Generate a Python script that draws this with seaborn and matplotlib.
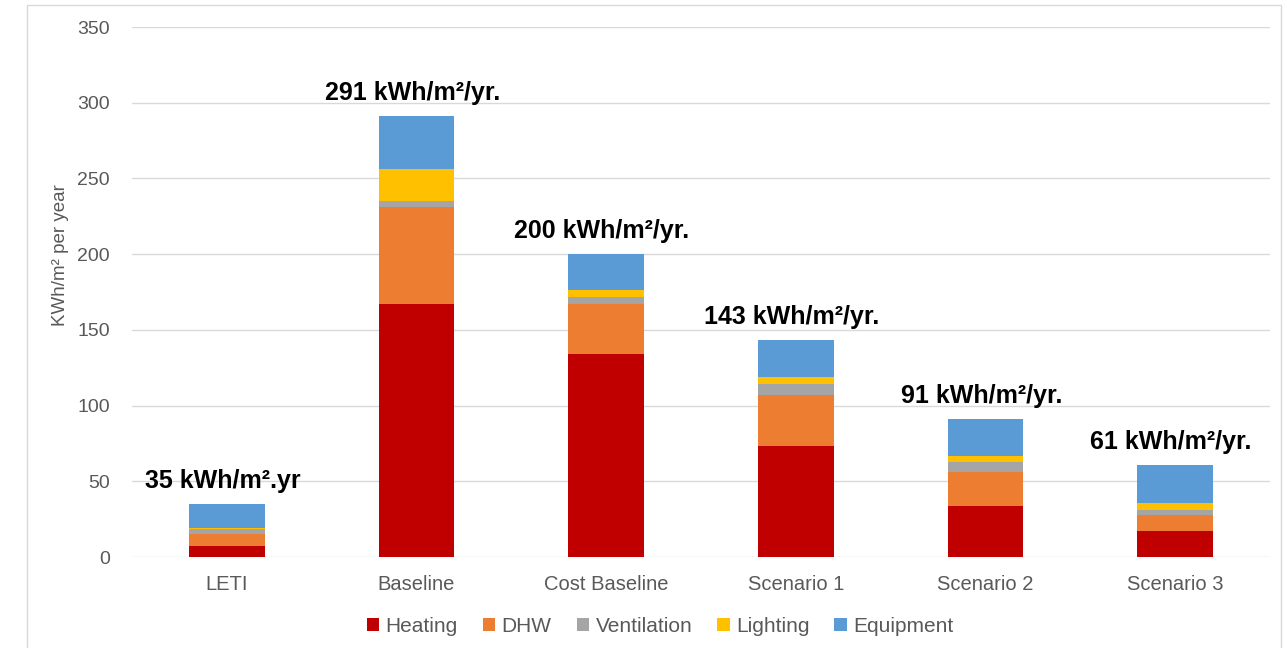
import matplotlib
matplotlib.use("Agg")
import matplotlib.pyplot as plt
from matplotlib.patches import Patch
from matplotlib.lines import Line2D
import numpy as np
import pandas as pd
import seaborn as sns

# Energy use intensity by component (kWh/m² per year)
scenarios = ["LETI", "Baseline", "Cost Baseline", "Scenario 1", "Scenario 2", "Scenario 3"]
heating = [7, 167, 134, 73, 34, 17]
dhw = [8, 64, 33, 34, 22, 10.5]
ventilation = [3.5, 4, 4.5, 7, 6.5, 3.5]
lighting = [0.5, 21, 4.5, 5, 4, 4.5]
equipment = [16, 35, 24, 24, 24.5, 25.5]
label_suffix = [".yr", "/yr.", "/yr.", "/yr.", "/yr.", "/yr."]

components = ["Heating", "DHW", "Ventilation", "Lighting", "Equipment"]
colors = ["#C00000", "#ED7D31", "#A5A5A5", "#FFC000", "#5B9BD5"]

df = pd.DataFrame({
    "scenario": scenarios,
    "Heating": heating,
    "DHW": dhw,
    "Ventilation": ventilation,
    "Lighting": lighting,
    "Equipment": equipment,
})
# cumulative tops of each stacked layer
cum = df[components].cumsum(axis=1)
for c in components:
    df["top_" + c] = cum[c]
totals = df[components].sum(axis=1).to_numpy()

sns.set_theme(style="white")
plt.rcParams["font.family"] = ["Liberation Sans", "DejaVu Sans"]

fig = plt.figure(figsize=(12.87, 6.48), dpi=100)
ax = fig.add_axes([132 / 1287, 91 / 648, (1270 - 132) / 1287, 530 / 648])

# draw from the top layer down so each shorter bar covers the one beneath
for comp, col in reversed(list(zip(components, colors))):
    sns.barplot(data=df, x="scenario", y="top_" + comp, color=col,
                saturation=1, width=0.4, linewidth=0, ax=ax, order=scenarios)

for i, (tot, suf) in enumerate(zip(totals, label_suffix)):
    ax.annotate(f"{tot:.0f} kWh/m²{suf}", xy=(i, tot), xytext=(-3, 8),
                textcoords="offset points", ha="center", va="bottom",
                fontsize=18, fontweight="bold", color="black")

ax.set_xlim(-0.5, 5.5)
ax.set_ylim(0, 350)
ax.set_yticks(np.arange(0, 351, 50))
ax.grid(axis="y", color="#D9D9D9", linewidth=1)
ax.set_axisbelow(True)
sns.despine(ax=ax, left=True, bottom=True)
ax.tick_params(axis="y", length=0, pad=16, labelsize=14, labelcolor="#595959")
ax.tick_params(axis="x", length=0, pad=13, labelsize=14.5, labelcolor="#595959")
ax.set_xlabel("")
ax.set_ylabel("KWh/m² per year", fontsize=13.5, color="#595959")
ax.yaxis.set_label_coords(-0.055, 0.57)

handles = [Patch(facecolor=c, edgecolor="none", label=n) for n, c in zip(components, colors)]
fig.legend(handles=handles, loc="center", bbox_to_anchor=(0.513, 1 - 626 / 648),
           ncol=5, frameon=False, fontsize=15, handlelength=0.6, handleheight=0.6,
           handletextpad=0.3, columnspacing=1.2, labelcolor="#595959")

# thin frame around the chart area
bx0, bx1, by1 = 27 / 1287, 1281 / 1287, 1 - 5 / 648
for xs, ys in [([bx0, bx0], [0, by1]), ([bx0, bx1], [by1, by1]), ([bx1, bx1], [0, by1])]:
    fig.add_artist(Line2D(xs, ys, color="#D9D9D9", linewidth=1))

fig.savefig("out.png", dpi=100, facecolor="white")
